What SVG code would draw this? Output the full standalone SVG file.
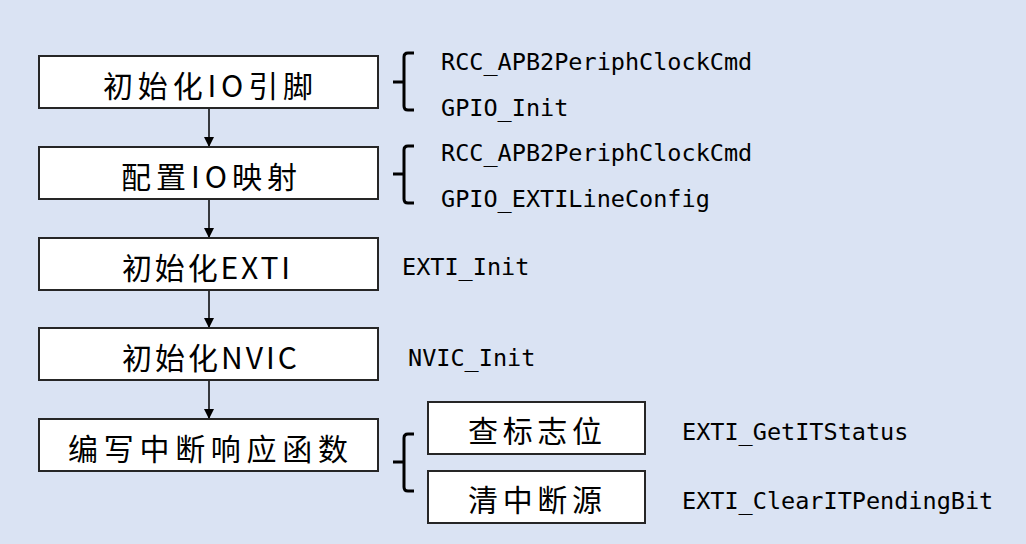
<svg xmlns="http://www.w3.org/2000/svg" width="1026" height="544" viewBox="0 0 1026 544">
<defs>
<style>
.bg{fill:#dae3f3}
.box{fill:#ffffff;stroke:#262626;stroke-width:2}
.bt{font-family:"Noto Sans CJK SC","Noto Sans",sans-serif;font-size:30px;fill:#000}
.ft{font-family:"DejaVu Sans Mono","Liberation Mono",monospace;font-size:23.5px;fill:#000}
.edge{stroke:#000;stroke-width:1.5;fill:none}
.brace{stroke:#000;stroke-width:3;fill:none}
</style>
<marker id="arr" viewBox="0 0 10 10" refX="10" refY="5" markerWidth="10" markerHeight="10" markerUnits="userSpaceOnUse" orient="auto">
<path d="M0,0 L10,5 L0,10 Z" fill="#000"/>
</marker>
</defs>
<rect class="bg" x="0" y="0" width="1026" height="544"/>
<g id="connectors">
<line class="edge" x1="209" y1="108" x2="209" y2="147" marker-end="url(#arr)"/>
<line class="edge" x1="209" y1="199" x2="209" y2="238" marker-end="url(#arr)"/>
<line class="edge" x1="209" y1="290" x2="209" y2="328" marker-end="url(#arr)"/>
<line class="edge" x1="209" y1="380" x2="209" y2="419" marker-end="url(#arr)"/>
<path class="brace" d="M414,53 H408 Q404,53 404,57 V106 Q404,110 408,110 H414 M393,82 H404"/>
<path class="brace" d="M414,146 H408 Q404,146 404,150 V199 Q404,203 408,203 H414 M393,174 H404"/>
<path class="brace" d="M414,434 H408 Q404,434 404,438 V487 Q404,491 408,491 H414 M393,462 H404"/>
</g>
<g id="n1">
<rect class="box" x="39" y="56" width="339" height="52"/>
<text class="bt" x="103" y="97" textLength="210" lengthAdjust="spacing">初始化IO引脚</text>
</g>
<g id="n2">
<rect class="box" x="39" y="147" width="339" height="52"/>
<text class="bt" x="121" y="188" textLength="176" lengthAdjust="spacing">配置IO映射</text>
</g>
<g id="n3">
<rect class="box" x="39" y="238" width="339" height="52"/>
<text class="bt" x="122" y="279" textLength="168" lengthAdjust="spacing">初始化EXTI</text>
</g>
<g id="n4">
<rect class="box" x="39" y="328" width="339" height="52"/>
<text class="bt" x="122" y="369" textLength="175" lengthAdjust="spacing">初始化NVIC</text>
</g>
<g id="n5">
<rect class="box" x="39" y="419" width="339" height="52"/>
<text class="bt" x="68" y="460" textLength="280" lengthAdjust="spacing">编写中断响应函数</text>
</g>
<g id="n6">
<rect class="box" x="428" y="402" width="217" height="52"/>
<text class="bt" x="468" y="442" textLength="134" lengthAdjust="spacing">查标志位</text>
</g>
<g id="n7">
<rect class="box" x="428" y="471" width="217" height="52"/>
<text class="bt" x="468" y="511" textLength="134" lengthAdjust="spacing">清中断源</text>
</g>
<g id="labels">
<text class="ft" x="441" y="70">RCC_APB2PeriphClockCmd</text>
<text class="ft" x="441" y="116">GPIO_Init</text>
<text class="ft" x="441" y="161">RCC_APB2PeriphClockCmd</text>
<text class="ft" x="441" y="207">GPIO_EXTILineConfig</text>
<text class="ft" x="402" y="275">EXTI_Init</text>
<text class="ft" x="408" y="366">NVIC_Init</text>
<text class="ft" x="682" y="440">EXTI_GetITStatus</text>
<text class="ft" x="682" y="509">EXTI_ClearITPendingBit</text>
</g>
</svg>
